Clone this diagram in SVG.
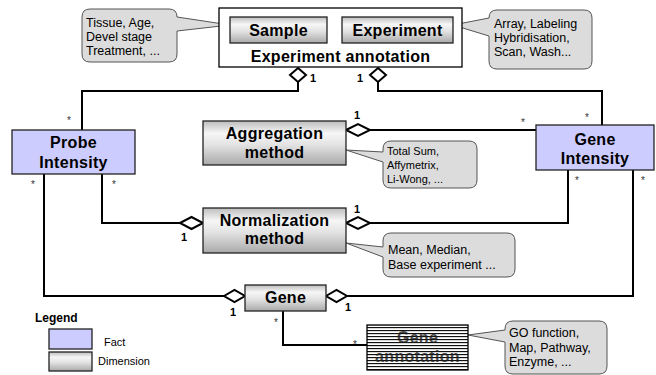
<svg xmlns="http://www.w3.org/2000/svg" width="656" height="375" viewBox="0 0 656 375">
  <defs>
    <linearGradient id="dimFill" x1="0" y1="0" x2="0" y2="1">
      <stop offset="0" stop-color="#bdbdbd"/>
      <stop offset="0.28" stop-color="#f6f6f6"/>
      <stop offset="0.55" stop-color="#e2e2e2"/>
      <stop offset="1" stop-color="#a9a9a9"/>
    </linearGradient>
    <pattern id="stripes" width="4" height="3" patternUnits="userSpaceOnUse">
      <rect width="4" height="3" fill="#ffffff"/>
      <rect y="0" width="4" height="1.2" fill="#111111"/>
    </pattern>
    <pattern id="stripesOver" width="4" height="3" patternUnits="userSpaceOnUse">
      <rect y="1.6" width="4" height="0.8" fill="#ffffff" fill-opacity="0.5"/>
    </pattern>
  </defs>
  <style>
    .fact { fill: #ccccff; stroke: #222; stroke-width: 1.3; }
    .dim { fill: url(#dimFill); stroke: #222; stroke-width: 1.3; }
    .title { font-family: "Liberation Sans", Arial, sans-serif; font-weight: bold; font-size: 16px; letter-spacing: 0.3px; fill: #000; text-anchor: middle; }
    .note { font-family: "Liberation Sans", Arial, sans-serif; font-size: 12.5px; fill: #000; }
    .noteSm { font-family: "Liberation Sans", Arial, sans-serif; font-size: 11px; fill: #000; }
    .bubble { fill: #dcdcdc; stroke: #555; stroke-width: 1; }
    .conn { fill: none; stroke: #000; stroke-width: 2; }
    .diamond { fill: #fff; stroke: #000; stroke-width: 2; }
    .one { font-family: "Liberation Sans", Arial, sans-serif; font-weight: bold; font-size: 11px; fill: #000; }
    .many { font-family: "Liberation Sans", Arial, sans-serif; font-size: 10px; fill: #333; text-anchor: middle; }
    .legend { font-family: "Liberation Sans", Arial, sans-serif; font-size: 11px; fill: #000; }
    .striped { fill: #1a1a1a; }
  </style>

  <!-- comment bubbles (drawn first so their tails sit under the boxes) -->
  <g id="notes">
    <path class="bubble" d="M90,9 H169 Q177,9 177,17 L230,25 L177,31 V54 Q177,62 169,62 H90 Q82,62 82,54 V17 Q82,9 90,9 Z"/>
    <text class="note" x="86" y="27">Tissue, Age,</text>
    <text class="note" x="86" y="41">Devel stage</text>
    <text class="note" x="86" y="55">Treatment, ...</text>

    <path class="bubble" d="M497,10 H584 Q592,10 592,18 V61 Q592,69 584,69 H497 Q489,69 489,61 V36 L453,25 L489,18 Q489,10 497,10 Z"/>
    <text class="note" x="494" y="28">Array, Labeling</text>
    <text class="note" x="494" y="42">Hybridisation,</text>
    <text class="note" x="494" y="56">Scan, Wash...</text>

    <path class="bubble" d="M391,141 H469 Q477,141 477,149 V180 Q477,188 469,188 H391 Q383,188 383,180 V162 L346,150 L383,152 V149 Q383,141 391,141 Z"/>
    <text class="noteSm" x="387" y="155">Total Sum,</text>
    <text class="noteSm" x="387" y="169">Affymetrix,</text>
    <text class="noteSm" x="387" y="183">Li-Wong, ...</text>

    <path class="bubble" d="M391,233 H507 Q515,233 515,241 V269 Q515,277 507,277 H391 Q383,277 383,269 V257 L346,243 L383,247 V241 Q383,233 391,233 Z"/>
    <text class="note" x="388" y="254">Mean, Median,</text>
    <text class="note" x="388" y="269">Base experiment ...</text>

    <path class="bubble" d="M513,321 H599 Q607,321 607,329 V366 Q607,374 599,374 H513 Q505,374 505,366 V342 L468,335 L505,330 V329 Q505,321 513,321 Z"/>
    <text class="note" x="509" y="337">GO function,</text>
    <text class="note" x="509" y="352">Map, Pathway,</text>
    <text class="note" x="509" y="366">Enzyme, ...</text>
  </g>

  <!-- associations -->
  <g id="connectors">
    <path class="conn" d="M298,82 V91 H82 V130"/>
    <path class="conn" d="M378,82 V91 H602 V125"/>
    <path class="conn" d="M370,130 H536"/>
    <path class="conn" d="M180,223 H102 V174"/>
    <path class="conn" d="M370,223 H568 V170"/>
    <path class="conn" d="M224,296 H44 V174"/>
    <path class="conn" d="M347,296 H633 V170"/>
    <path class="conn" d="M283,311 V345 H367"/>

    <polygon class="diamond" points="298,68 306,75 298,82 290,75"/>
    <polygon class="diamond" points="378,68 386,75 378,82 370,75"/>
    <polygon class="diamond" points="346,130 358,124 370,130 358,136"/>
    <polygon class="diamond" points="180,223 191.5,217 203,223 191.5,229"/>
    <polygon class="diamond" points="346,223 358,217 370,223 358,229"/>
    <polygon class="diamond" points="224,296 234.5,290 245,296 234.5,302"/>
    <polygon class="diamond" points="326,296 336.5,290 347,296 336.5,302"/>

    <text class="one" x="310" y="82">1</text>
    <text class="one" x="357" y="82">1</text>
    <text class="one" x="354" y="119">1</text>
    <text class="one" x="354" y="213">1</text>
    <text class="one" x="181" y="241">1</text>
    <text class="one" x="230" y="316">1</text>
    <text class="one" x="345" y="311">1</text>

    <text class="many" x="69" y="123.5">*</text>
    <text class="many" x="33" y="187.5">*</text>
    <text class="many" x="114" y="187.5">*</text>
    <text class="many" x="523" y="125.5">*</text>
    <text class="many" x="587" y="120.5">*</text>
    <text class="many" x="577" y="183.5">*</text>
    <text class="many" x="643" y="183.5">*</text>
    <text class="many" x="276" y="325.5">*</text>
    <text class="many" x="355" y="347.5">*</text>
  </g>

  <g id="experiment-annotation">
    <rect x="219" y="8" width="243" height="59" fill="#fff" stroke="#000" stroke-width="1.3"/>
    <text class="title" x="340.5" y="62">Experiment annotation</text>
  </g>
  <g id="sample">
    <rect class="dim" x="230" y="17" width="97" height="26"/>
    <text class="title" x="278.5" y="36">Sample</text>
  </g>
  <g id="experiment">
    <rect class="dim" x="342" y="17" width="111" height="26"/>
    <text class="title" x="397.5" y="36">Experiment</text>
  </g>

  <g id="probe-intensity">
    <rect class="fact" x="12" y="130" width="123" height="44"/>
    <text class="title" x="73.5" y="148">Probe</text>
    <text class="title" x="73.5" y="168">Intensity</text>
  </g>
  <g id="gene-intensity">
    <rect class="fact" x="536" y="125" width="118" height="45"/>
    <text class="title" x="595" y="145">Gene</text>
    <text class="title" x="595" y="164">Intensity</text>
  </g>

  <g id="aggregation-method">
    <rect class="dim" x="203" y="121" width="143" height="44"/>
    <text class="title" x="274.5" y="139">Aggregation</text>
    <text class="title" x="274.5" y="158">method</text>
  </g>
  <g id="normalization-method">
    <rect class="dim" x="203" y="208" width="143" height="45"/>
    <text class="title" x="274.5" y="226">Normalization</text>
    <text class="title" x="274.5" y="244">method</text>
  </g>

  <g id="gene">
    <rect class="dim" x="245" y="285" width="81" height="26"/>
    <text class="title" x="285.5" y="303">Gene</text>
  </g>

  <!-- hatched rendering of the annotation box -->
  <g id="gene-annotation">
    <rect x="367" y="325" width="101" height="45" fill="url(#stripes)" stroke="#000" stroke-width="1.3"/>
    <text class="title striped" x="417.5" y="343" style="fill:#1a1a1a">Gene</text>
    <text class="title striped" x="417.5" y="362" style="fill:#1a1a1a">annotation</text>
    <rect x="368" y="326" width="99" height="43" fill="url(#stripesOver)"/>
  </g>

  <g id="legend">
    <text class="one" x="35" y="322" style="font-size:12px">Legend</text>
    <rect class="fact" x="49" y="329" width="43" height="20"/>
    <text class="legend" x="104" y="346">Fact</text>
    <rect class="dim" x="49" y="352" width="43" height="19"/>
    <text class="legend" x="98" y="365">Dimension</text>
  </g>
</svg>
